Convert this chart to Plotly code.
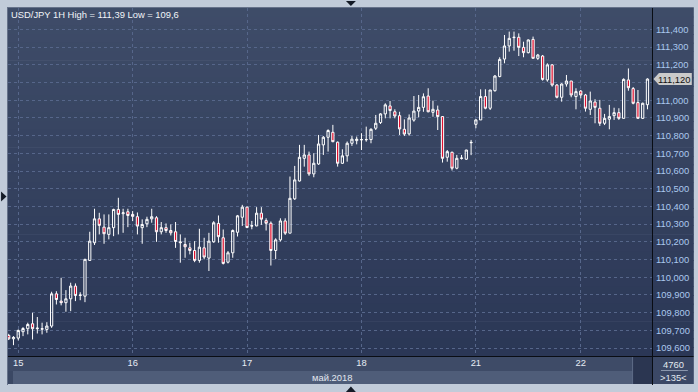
import plotly.graph_objects as go

# ---------------- data ----------------
day_ticks = [2, 26, 50, 74, 98, 120]
day_labels = ["15", "16", "17", "18", "21", "22"]
price_ticks = [109.6, 109.7, 109.8, 109.9, 110.0, 110.1, 110.2, 110.3, 110.4,
               110.5, 110.6, 110.7, 110.8, 110.9, 111.0, 111.1, 111.2, 111.3, 111.4]

opens = [109.671, 109.652, 109.656, 109.692, 109.709, 109.737, 109.709, 109.706, 109.705, 109.724,
         109.906, 109.865, 109.856, 109.878, 109.950, 109.897, 109.893, 110.095, 110.195, 110.330,
         110.283, 110.242, 110.280, 110.383, 110.359, 110.370, 110.355, 110.342, 110.280, 110.302,
         110.330, 110.336, 110.257, 110.280, 110.264, 110.257, 110.195, 110.185, 110.166, 110.151,
         110.095, 110.166, 110.108, 110.200, 110.304, 110.223, 110.085, 110.138, 110.254, 110.339,
         110.396, 110.289, 110.290, 110.362, 110.320, 110.305, 110.151, 110.211, 110.318, 110.249,
         110.443, 110.544, 110.672, 110.691, 110.584, 110.640, 110.748, 110.791, 110.819, 110.763,
         110.644, 110.686, 110.757, 110.772, 110.776, 110.777, 110.778, 110.842, 110.874, 110.923,
         110.968, 110.935, 110.913, 110.836, 110.810, 110.888, 110.939, 110.960, 111.024, 110.932,
         110.945, 110.908, 110.678, 110.706, 110.616, 110.672, 110.667, 110.760, 110.864, 110.889,
         111.021, 110.955, 111.054, 111.134, 111.233, 111.307, 111.354, 111.356, 111.299, 111.269,
         111.344, 111.237, 111.250, 111.115, 111.200, 111.086, 111.017, 111.092, 111.109, 111.021,
         111.052, 111.030, 110.949, 110.990, 110.955, 110.870, 110.893, 110.913, 110.930, 110.898,
         111.115, 111.066, 110.987, 110.898, 110.975]
highs = [109.680, 109.667, 109.705, 109.718, 109.743, 109.799, 109.775, 109.743, 109.746, 109.918,
         109.921, 109.997, 109.927, 109.969, 109.965, 109.915, 110.104, 110.257, 110.387, 110.364,
         110.355, 110.355, 110.387, 110.449, 110.387, 110.387, 110.374, 110.366, 110.327, 110.342,
         110.387, 110.345, 110.312, 110.304, 110.298, 110.312, 110.242, 110.223, 110.195, 110.204,
         110.274, 110.223, 110.251, 110.317, 110.349, 110.270, 110.148, 110.270, 110.352, 110.409,
         110.399, 110.318, 110.396, 110.396, 110.333, 110.315, 110.220, 110.333, 110.333, 110.569,
         110.629, 110.748, 110.748, 110.710, 110.701, 110.804, 110.798, 110.836, 110.861, 110.767,
         110.723, 110.767, 110.798, 110.795, 110.814, 110.851, 110.842, 110.917, 110.927, 110.983,
         110.996, 110.949, 110.935, 110.892, 110.920, 111.024, 111.030, 111.039, 111.068, 110.998,
         110.970, 110.910, 110.719, 110.710, 110.691, 110.691, 110.720, 110.776, 110.893, 111.062,
         111.062, 111.058, 111.143, 111.243, 111.369, 111.388, 111.388, 111.378, 111.331, 111.344,
         111.360, 111.262, 111.256, 111.209, 111.205, 111.092, 111.096, 111.143, 111.109, 111.068,
         111.058, 111.036, 111.049, 111.006, 111.002, 110.923, 110.974, 110.958, 110.955, 111.124,
         111.180, 111.075, 111.058, 110.987, 111.124]
lows = [109.645, 109.616, 109.643, 109.667, 109.677, 109.648, 109.682, 109.677, 109.686, 109.714,
        109.846, 109.841, 109.805, 109.808, 109.865, 109.870, 109.859, 110.093, 110.182, 110.242,
        110.189, 110.214, 110.232, 110.242, 110.251, 110.283, 110.317, 110.242, 110.189, 110.283,
        110.308, 110.200, 110.242, 110.251, 110.236, 110.166, 110.082, 110.110, 110.129, 110.085,
        110.082, 110.101, 110.035, 110.195, 110.195, 110.072, 110.078, 110.110, 110.230, 110.290,
        110.277, 110.271, 110.288, 110.296, 110.264, 110.066, 110.102, 110.202, 110.239, 110.249,
        110.437, 110.541, 110.625, 110.573, 110.565, 110.635, 110.691, 110.710, 110.763, 110.625,
        110.640, 110.653, 110.742, 110.751, 110.719, 110.766, 110.757, 110.832, 110.866, 110.898,
        110.898, 110.898, 110.804, 110.798, 110.800, 110.879, 110.904, 110.935, 110.932, 110.907,
        110.832, 110.648, 110.653, 110.603, 110.610, 110.665, 110.663, 110.690, 110.842, 110.889,
        110.949, 110.945, 111.049, 111.130, 111.209, 111.275, 111.280, 111.250, 111.243, 111.265,
        111.237, 111.228, 111.111, 111.105, 111.077, 111.011, 110.992, 111.077, 111.017, 110.949,
        111.011, 110.936, 110.917, 110.870, 110.855, 110.860, 110.836, 110.889, 110.889, 110.898,
        111.054, 110.977, 110.896, 110.894, 110.949]
closes = [109.652, 109.660, 109.699, 109.710, 109.733, 109.709, 109.712, 109.709, 109.724, 109.906,
          109.874, 109.856, 109.878, 109.950, 109.897, 109.899, 110.101, 110.204, 110.330, 110.293,
          110.246, 110.280, 110.383, 110.355, 110.364, 110.349, 110.344, 110.289, 110.298, 110.327,
          110.342, 110.257, 110.280, 110.264, 110.251, 110.202, 110.199, 110.172, 110.151, 110.095,
          110.170, 110.114, 110.204, 110.308, 110.229, 110.078, 110.138, 110.264, 110.347, 110.396,
          110.281, 110.291, 110.362, 110.328, 110.305, 110.151, 110.211, 110.318, 110.249, 110.446,
          110.550, 110.678, 110.691, 110.584, 110.644, 110.753, 110.791, 110.829, 110.766, 110.644,
          110.686, 110.757, 110.780, 110.780, 110.778, 110.778, 110.836, 110.870, 110.923, 110.974,
          110.942, 110.911, 110.838, 110.809, 110.900, 110.939, 110.960, 111.020, 110.935, 110.949,
          110.908, 110.672, 110.710, 110.616, 110.672, 110.673, 110.719, 110.762, 110.889, 111.021,
          110.955, 111.058, 111.137, 111.231, 111.307, 111.350, 111.356, 111.299, 111.269, 111.341,
          111.237, 111.256, 111.118, 111.200, 111.086, 111.017, 111.092, 111.109, 111.030, 111.049,
          111.030, 110.955, 110.996, 110.960, 110.870, 110.898, 110.908, 110.930, 110.898, 111.118,
          111.071, 110.983, 110.898, 110.983, 111.120]

title_text = "USD/JPY 1H High = 111,39 Low = 109,6"
month_label = "май.2018"
volume_label = "4760"
bars_label = ">135<"

# ---------------- geometry helpers ----------------
W, H = 698, 392
L, R, T, B = 8, 655, 8, 356
PW, PH = R - L, B - T


def X(px):
    return (px - L) / PW


def Y(py):
    return (B - py) / PH


FONT = "Liberation Sans, Arial, sans-serif"
idx = list(range(len(opens)))

fig = go.Figure()
fig.add_trace(go.Candlestick(
    x=idx, open=opens, high=highs, low=lows, close=closes,
    increasing=dict(line=dict(color="#ffffff", width=1), fillcolor="rgba(0,0,0,0)"),
    decreasing=dict(line=dict(color="#ffffff", width=1), fillcolor="#e0102f"),
    whiskerwidth=0, hoverinfo="skip", showlegend=False,
))

shapes = []
# background gradient of chart + price panel
N = 40
top_c = (62, 76, 104)
bot_c = (43, 55, 86)
for k in range(N):
    t = k / (N - 1)
    c = tuple(round(top_c[j] + (bot_c[j] - top_c[j]) * t) for j in range(3))
    y0 = T + k * PH / N
    y1 = y0 + PH / N + 0.6
    shapes.append(dict(type="rect", xref="paper", yref="paper", layer="below",
                       x0=X(8), x1=X(697), y0=Y(min(y1, B)), y1=Y(y0),
                       fillcolor="rgb(%d,%d,%d)" % c, line=dict(width=0)))
# bottom panels
shapes += [
    dict(type="rect", xref="paper", yref="paper", layer="below",
         x0=X(8), x1=X(655), y0=Y(371), y1=Y(357), fillcolor="#3e4b67", line=dict(width=0)),
    dict(type="rect", xref="paper", yref="paper", layer="below",
         x0=X(8), x1=X(13), y0=Y(384), y1=Y(371), fillcolor="#3b4864", line=dict(width=0)),
    dict(type="rect", xref="paper", yref="paper", layer="below",
         x0=X(13), x1=X(635), y0=Y(384), y1=Y(371), fillcolor="#4f5d79", line=dict(width=0)),
    dict(type="rect", xref="paper", yref="paper", layer="below",
         x0=X(635), x1=X(655), y0=Y(384), y1=Y(357), fillcolor="#2b3651", line=dict(width=0)),
    dict(type="line", xref="paper", yref="paper", layer="below",
         x0=X(635.5), x1=X(635.5), y0=Y(384), y1=Y(357), line=dict(color="#5f6d88", width=1)),
    dict(type="rect", xref="paper", yref="paper", layer="below",
         x0=X(655), x1=X(697), y0=Y(384), y1=Y(357), fillcolor="#3b4866", line=dict(width=0)),
    dict(type="line", xref="paper", yref="paper", layer="below",
         x0=X(664), x1=X(691), y0=Y(370.5), y1=Y(370.5), line=dict(color="#8a96ac", width=1)),
    # frame lines
    dict(type="line", xref="paper", yref="paper", layer="above",
         x0=X(655.5), x1=X(655.5), y0=Y(385), y1=Y(8), line=dict(color="#0a0d14", width=1)),
    dict(type="line", xref="paper", yref="paper", layer="above",
         x0=X(8), x1=X(697), y0=Y(356.5), y1=Y(356.5), line=dict(color="#0a0d14", width=1)),
    dict(type="line", xref="paper", yref="paper", layer="below",
         x0=X(7.5), x1=X(7.5), y0=Y(385), y1=Y(7), line=dict(color="#66728a", width=1)),
    dict(type="line", xref="paper", yref="paper", layer="below",
         x0=X(7), x1=X(697), y0=Y(7.5), y1=Y(7.5), line=dict(color="#66728a", width=1)),
]


# navigation arrows
def tri(pts):
    d = "M " + " L ".join("%f,%f" % (X(a), Y(b)) for a, b in pts) + " Z"
    return dict(type="path", xref="paper", yref="paper", layer="above", path=d,
                fillcolor="#141a26", line=dict(width=0))


shapes += [tri([(347.5, 1), (357.5, 1), (352.5, 6)]),
           tri([(1, 191.5), (1, 201.5), (6.5, 196.5)]),
           tri([(347.5, 392), (357.5, 392), (352.5, 386.5)])]

# current price tag, positioned on the y scale by the last close
last = closes[-1]
half = 6.0 * (111.4 - 109.6) / (348 - 29.5)
shapes.append(dict(type="path", xref="paper", yref="y", layer="above",
                   path="M %f,%f L %f,%f L %f,%f L %f,%f L %f,%f Z" % (
                       X(656.5), last, X(662), last + half, X(695), last + half,
                       X(695), last - half, X(662), last - half),
                   fillcolor="#cacaca", line=dict(width=0)))

ticktext = []
for v in price_ticks:
    s = ("%.3f" % v).replace(".", ",")
    ticktext.append("" if abs(v - round(last, 1)) < 1e-9 else s)

annotations = [
    dict(text=title_text, xref="paper", yref="paper", x=X(9.5), y=Y(14.5),
         xanchor="left", yanchor="middle", showarrow=False,
         font=dict(family=FONT, size=9.4, color="#f2f4f8")),
    dict(text=month_label, xref="paper", yref="paper", x=X(334), y=Y(377),
         xanchor="center", yanchor="middle", showarrow=False,
         font=dict(family=FONT, size=9.4, color="#e2e8f0")),
    dict(text=volume_label, xref="paper", yref="paper", x=X(677), y=Y(364),
         xanchor="center", yanchor="middle", showarrow=False,
         font=dict(family=FONT, size=9.4, color="#e2e8f0")),
    dict(text=bars_label, xref="paper", yref="paper", x=X(677), y=Y(377.5),
         xanchor="center", yanchor="middle", showarrow=False,
         font=dict(family=FONT, size=9.4, color="#e2e8f0")),
    dict(text=("%.3f" % last).replace(".", ","), xref="paper", yref="y", x=X(678), y=last,
         xanchor="center", yanchor="middle", showarrow=False,
         font=dict(family=FONT, size=9.4, color="#111111")),
]

y_top = 111.4 + (29.5 - T) * 1.8 / (348 - 29.5)
y_bot = 111.4 - (B - 29.5) * 1.8 / (348 - 29.5)

fig.update_layout(
    width=W, height=H,
    margin=dict(l=L, r=W - R, t=T, b=H - B, pad=0),
    paper_bgcolor="#c1cbd9",
    plot_bgcolor="rgba(0,0,0,0)",
    shapes=shapes, annotations=annotations,
    showlegend=False,
    boxgap=0.33,
    xaxis=dict(range=[-0.15, 134.95], tickvals=day_ticks, ticktext=day_labels,
               showgrid=True, gridcolor="#56668a", griddash="3px,3px", gridwidth=1,
               zeroline=False, showline=False, ticks="", rangeslider=dict(visible=False),
               tickfont=dict(family=FONT, size=9.4, color="#e6ecf4"), fixedrange=True),
    yaxis=dict(range=[y_bot, y_top], side="right", tickvals=price_ticks, ticktext=ticktext,
               showgrid=True, gridcolor="#56668a", griddash="3px,3px", gridwidth=1,
               zeroline=False, showline=False, ticks="", ticklabelstandoff=3,
               tickfont=dict(family=FONT, size=9.4, color="#abc8ee"), fixedrange=True),
)

fig.write_html("out.html")
